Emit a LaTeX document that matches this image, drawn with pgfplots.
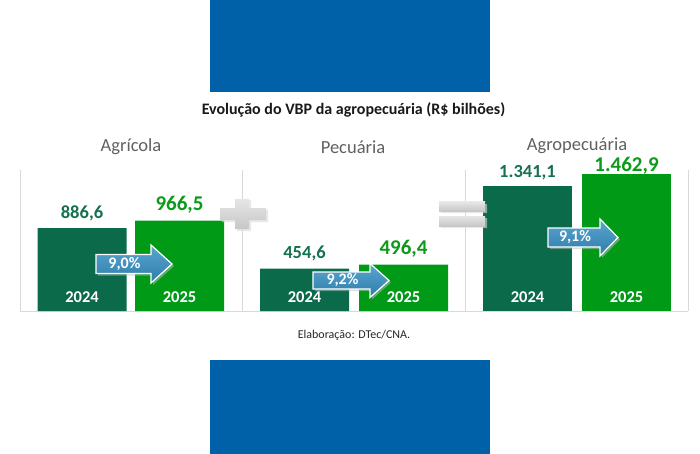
\documentclass[border=0pt]{standalone}
\usepackage{pgfplots}
\pgfplotsset{compat=1.18}
\usepackage{fontspec}
\setmainfont{Carlito}
\usetikzlibrary{shadings}
\definecolor{dkgreen}{HTML}{0B6A4A}
\definecolor{dklabel}{HTML}{16714E}
\definecolor{ltgreen}{HTML}{009A17}
\definecolor{ltlabel}{HTML}{0C9A1A}
\definecolor{blueblock}{HTML}{0060A8}
\definecolor{panelgray}{HTML}{D9D9D9}
\definecolor{titlegray}{HTML}{606060}
\definecolor{arrowtop}{HTML}{5AA6D0}
\definecolor{arrowbot}{HTML}{2F7CAA}
\newcommand{\blockarrow}[7]{% x0, xhead, xtip, yc, shaft half, head half, text
  \fill[black!25,opacity=0.5] (#1+2,#4-#5+2) -- (#2+2,#4-#5+2) -- (#2+2,#4-#6+2) -- (#3+2,#4+2) -- (#2+2,#4+#6+2) -- (#2+2,#4+#5+2) -- (#1+2,#4+#5+2) -- cycle;
  \shade[top color=arrowtop,bottom color=arrowbot,draw=white,line width=1.2pt]
    (#1,#4-#5) -- (#2,#4-#5) -- (#2,#4-#6) -- (#3,#4) -- (#2,#4+#6) -- (#2,#4+#5) -- (#1,#4+#5) -- cycle;
  \node[text=white,font=\fontsize{16}{16}\selectfont\bfseries] at ({(#1+#2)/2+1},#4) {#7};
}
\begin{document}
\begin{tikzpicture}[x=1pt,y=-1pt]
\useasboundingbox (0,0) rectangle (700,454);
% blue blocks
\fill[blueblock] (210,0) rectangle (490,92);
\fill[blueblock] (210,360) rectangle (490,454);
% panel frames
\draw[panelgray,line width=0.8pt] (20,170) -- (20,311) -- (688,311);
\draw[panelgray,line width=0.8pt] (242,170) -- (242,311);
\draw[panelgray,line width=0.8pt] (465,170) -- (465,311);
\draw[panelgray,line width=0.8pt] (688,170) -- (688,311);
% titles
\node[font=\fontsize{16}{16}\selectfont\bfseries,text=black!90] at (353.5,110) {Evolução do VBP da agropecuária (R\$ bilhões)};
\node[font=\fontsize{18.5}{18.5}\selectfont,text=titlegray] at (131,147) {Agrícola};
\node[font=\fontsize{18.5}{18.5}\selectfont,text=titlegray] at (353,147) {Pecuária};
\node[font=\fontsize{18.5}{18.5}\selectfont,text=titlegray] at (577,146) {Agropecuária};
\node[font=\fontsize{12}{12}\selectfont,text=black!85] at (354,335) {Elaboração: DTec/CNA.};
\begin{axis}[
  at={(0pt,-454pt)}, anchor=south west,
  width=700pt, height=454pt, scale only axis,
  xmin=0, xmax=700, ymin=-1531.0, ymax=3329.8,
  hide axis, clip=false,
  point meta=explicit symbolic,
  nodes near coords,
]
\addplot[ybar, bar width=89, bar shift=0, fill=dkgreen, draw=none,
  nodes near coords style={font=\fontsize{18.5}{18.5}\selectfont\bfseries, text=dklabel, anchor=south, yshift=4pt}]
  coordinates {(82,886.6) [886,6] (304.5,454.6) [454,6]};
\addplot[ybar, bar width=89, bar shift=0, fill=dkgreen, draw=none,
  nodes near coords style={font=\fontsize{18.5}{18.5}\selectfont\bfseries, text=dklabel, anchor=south, yshift=2pt}]
  coordinates {(527.5,1341.1) [1.341,1]};
\addplot[ybar, bar width=89, bar shift=0, fill=ltgreen, draw=none,
  nodes near coords style={font=\fontsize{21}{21}\selectfont\bfseries, text=ltlabel, anchor=south, yshift=4pt}]
  coordinates {(179.5,966.5) [966,5] (403.5,496.4) [496,4]};
\addplot[ybar, bar width=89, bar shift=0, fill=ltgreen, draw=none,
  nodes near coords style={font=\fontsize{21}{21}\selectfont\bfseries, text=ltlabel, anchor=south, yshift=-4pt}]
  coordinates {(626.5,1462.9) [1.462,9]};
\end{axis}
% year labels
\foreach \x/\t in {82/2024,179.5/2025,304.5/2024,403.5/2025,527.5/2024,626.5/2025}
  \node[text=white,font=\fontsize{16.5}{16.5}\selectfont\bfseries] at (\x,297) {\t};
% plus sign
\fill[black!15,opacity=0.6] (222,210) rectangle (268,222) (237,200) rectangle (251,231);
\shade[top color=black!10,bottom color=black!22] (220,208) -- (235,208) -- (235,199) -- (249,199) -- (249,208) -- (266,208) -- (266,220) -- (249,220) -- (249,229) -- (235,229) -- (235,220) -- (220,220) -- cycle;
% equal sign
\fill[black!15,opacity=0.6] (441,204) rectangle (487,213) (441,218) rectangle (487,228);
\shade[top color=black!10,bottom color=black!22] (439,202) rectangle (485,211);
\shade[top color=black!10,bottom color=black!22] (439,216) rectangle (485,226);
% arrows
\blockarrow{96}{151}{172}{264}{9.5}{19}{9,0\%}
\blockarrow{313}{370}{389}{280.5}{8.5}{17}{9,2\%}
\blockarrow{548}{600}{618}{237.5}{9.5}{18.5}{9,1\%}
\end{tikzpicture}
\end{document}
